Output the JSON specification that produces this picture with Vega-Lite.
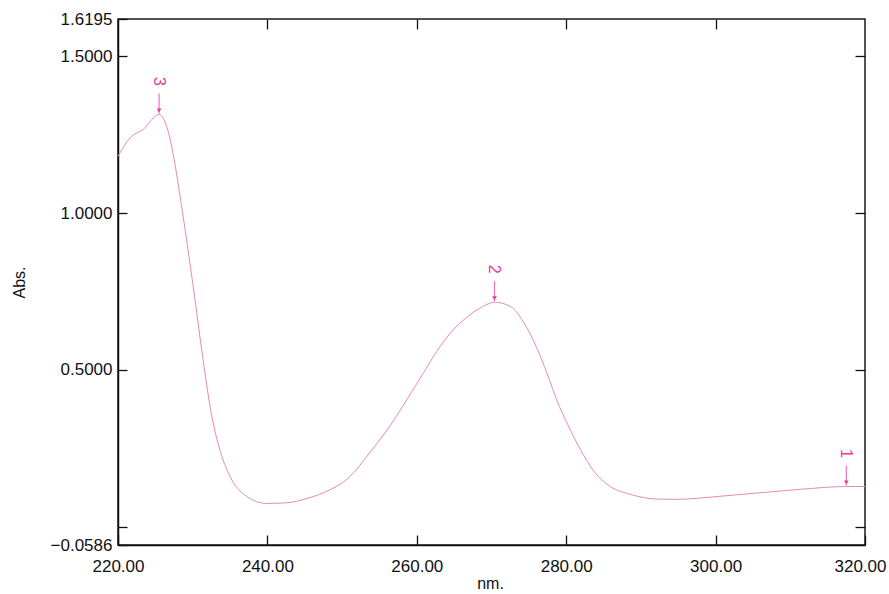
{
  "$schema": "https://vega.github.io/schema/vega-lite/v6.json",
  "width": 747,
  "height": 526,
  "autosize": {"type": "none"},
  "padding": {"left": 118, "top": 19, "right": 24, "bottom": 49},
  "background": "white",
  "config": {
    "view": {"stroke": "#1a1a1a", "strokeWidth": 1.5},
    "axis": {
      "grid": false,
      "domainColor": "#111111",
      "domainWidth": 1.5,
      "tickColor": "#111111",
      "tickWidth": 1.3,
      "labelColor": "#111111",
      "titleColor": "#111111",
      "labelFont": "'Liberation Sans', Arial, sans-serif",
      "titleFont": "'Liberation Sans', Arial, sans-serif",
      "titleFontWeight": "normal"
    }
  },
  "datasets": {
    "spectrum": [
      {"nm": 220.0, "abs": 1.182},
      {"nm": 221.6, "abs": 1.240},
      {"nm": 223.4, "abs": 1.268},
      {"nm": 225.5, "abs": 1.315},
      {"nm": 226.7, "abs": 1.262},
      {"nm": 227.6, "abs": 1.160},
      {"nm": 228.3, "abs": 1.055},
      {"nm": 229.0, "abs": 0.945},
      {"nm": 229.6, "abs": 0.845},
      {"nm": 230.3, "abs": 0.725},
      {"nm": 231.0, "abs": 0.600},
      {"nm": 231.7, "abs": 0.480},
      {"nm": 232.5, "abs": 0.360},
      {"nm": 233.7, "abs": 0.240},
      {"nm": 235.0, "abs": 0.160},
      {"nm": 237.2, "abs": 0.097},
      {"nm": 239.9, "abs": 0.074},
      {"nm": 242.6, "abs": 0.076},
      {"nm": 245.3, "abs": 0.090},
      {"nm": 247.5, "abs": 0.108},
      {"nm": 251.1, "abs": 0.161},
      {"nm": 253.7, "abs": 0.236},
      {"nm": 256.4, "abs": 0.321},
      {"nm": 258.7, "abs": 0.406},
      {"nm": 260.9, "abs": 0.491},
      {"nm": 262.7, "abs": 0.560},
      {"nm": 264.4, "abs": 0.615},
      {"nm": 266.7, "abs": 0.668},
      {"nm": 268.9, "abs": 0.703},
      {"nm": 270.4, "abs": 0.716},
      {"nm": 272.5, "abs": 0.703},
      {"nm": 274.3, "abs": 0.652},
      {"nm": 276.1, "abs": 0.568},
      {"nm": 277.4, "abs": 0.491},
      {"nm": 278.7, "abs": 0.406},
      {"nm": 280.3, "abs": 0.321},
      {"nm": 281.9, "abs": 0.246},
      {"nm": 283.6, "abs": 0.180},
      {"nm": 285.9, "abs": 0.128},
      {"nm": 288.6, "abs": 0.103},
      {"nm": 292.1, "abs": 0.088},
      {"nm": 294.8, "abs": 0.087},
      {"nm": 300.2, "abs": 0.096},
      {"nm": 311.3, "abs": 0.119},
      {"nm": 317.5, "abs": 0.128},
      {"nm": 320.0, "abs": 0.128}
    ],
    "peaks": [
      {"nm": 225.5, "abs": 1.315, "label": "3"},
      {"nm": 270.4, "abs": 0.716, "label": "2"},
      {"nm": 317.5, "abs": 0.128, "label": "1"}
    ]
  },
  "layer": [
    {
      "data": {"name": "spectrum"},
      "mark": {"type": "line", "interpolate": "monotone", "color": "#e48bb9", "strokeWidth": 1},
      "encoding": {
        "x": {
          "field": "nm", "type": "quantitative",
          "scale": {"domain": [220, 320], "nice": false, "zero": false},
          "axis": {
            "orient": "bottom",
            "values": [220, 240, 260, 280, 300, 320],
            "format": ".2f",
            "tickSize": -10,
            "labelPadding": 23,
            "labelFontSize": 17,
            "labelFlush": false,
            "labelOffset": {"condition": {"test": "datum.value == 320", "value": -5}, "value": 0},
            "title": "nm.",
            "titleFontSize": 16,
            "titleX": 372,
            "titleY": 43,
            "titleBaseline": "alphabetic",
            "titleAlign": "center"
          }
        },
        "y": {
          "field": "abs", "type": "quantitative",
          "scale": {"domain": [-0.0586, 1.6195], "nice": false, "zero": false},
          "axis": {
            "orient": "left",
            "values": [-0.0586, 0, 0.5, 1.0, 1.5, 1.6195],
            "labelExpr": "datum.value == 0 ? '' : format(datum.value, '.4f')",
            "tickSize": -9,
            "labelPadding": 15,
            "labelFontSize": 17,
            "labelFlush": false,
            "title": "Abs.",
            "titleFontSize": 16,
            "titleAngle": -90,
            "titleX": -99,
            "titleY": 263,
            "titleBaseline": "middle",
            "titleAlign": "center"
          }
        }
      }
    },
    {
      "data": {"name": "spectrum"},
      "mark": {"type": "line", "opacity": 0},
      "encoding": {
        "x": {
          "field": "nm", "type": "quantitative",
          "scale": {"domain": [220, 320], "nice": false, "zero": false},
          "axis": {"orient": "top", "values": [240, 260, 280, 300], "tickSize": -10, "labels": false, "title": null, "domain": false}
        },
        "y": {
          "field": "abs", "type": "quantitative",
          "scale": {"domain": [-0.0586, 1.6195], "nice": false, "zero": false},
          "axis": {"orient": "right", "values": [0, 0.5, 1.0, 1.5], "tickSize": -10, "labels": false, "title": null, "domain": false}
        }
      }
    },
    {
      "data": {"name": "peaks"},
      "mark": {"type": "tick", "orient": "vertical", "size": 20, "thickness": 1.2, "yOffset": -11, "color": "#e8389a"},
      "encoding": {
        "x": {"field": "nm", "type": "quantitative", "axis": null},
        "y": {"field": "abs", "type": "quantitative", "axis": null}
      }
    },
    {
      "data": {"name": "peaks"},
      "mark": {"type": "point", "shape": "triangle-down", "filled": true, "size": 22, "yOffset": -4, "color": "#e8389a", "opacity": 1},
      "encoding": {
        "x": {"field": "nm", "type": "quantitative", "axis": null},
        "y": {"field": "abs", "type": "quantitative", "axis": null}
      }
    },
    {
      "data": {"name": "peaks"},
      "mark": {"type": "text", "angle": 90, "fontSize": 16, "font": "'Liberation Sans', Arial, sans-serif", "align": "center", "baseline": "middle", "yOffset": -33, "color": "#e8389a"},
      "encoding": {
        "x": {"field": "nm", "type": "quantitative", "axis": null},
        "y": {"field": "abs", "type": "quantitative", "axis": null},
        "text": {"field": "label"}
      }
    }
  ],
  "resolve": {"axis": {"x": "independent", "y": "independent"}}
}
